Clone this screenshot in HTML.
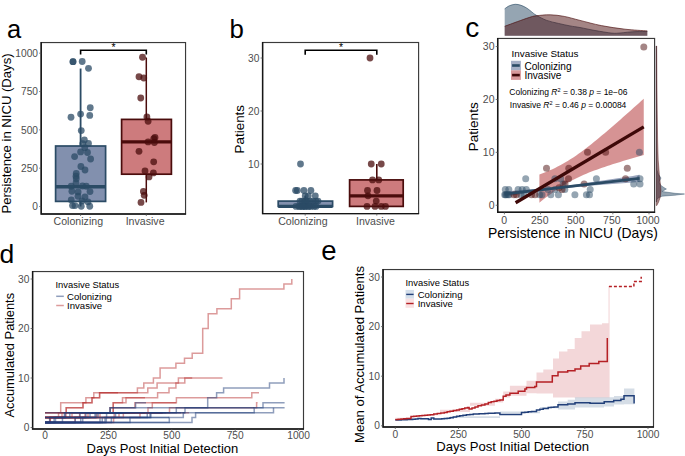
<!DOCTYPE html><html><head><meta charset="utf-8"><style>html,body{margin:0;padding:0;background:#fff;}svg{display:block;}</style></head><body>
<svg width="685" height="456" viewBox="0 0 685 456" font-family='"Liberation Sans", sans-serif'>
<rect width="685" height="456" fill="#fff"/>
<text x="6.90" y="37.80" font-size="25.5" text-anchor="start" fill="#000" >a</text>
<text x="229.40" y="37.90" font-size="25.8" text-anchor="start" fill="#000" >b</text>
<text x="465.30" y="36.60" font-size="28" text-anchor="start" fill="#000" >c</text>
<text x="-0.60" y="263.00" font-size="26.5" text-anchor="start" fill="#000" >d</text>
<text x="321.20" y="259.60" font-size="27.5" text-anchor="start" fill="#000" >e</text>
<line x1="80.6" y1="68.53" x2="80.6" y2="206.50" stroke="#2b4b65" stroke-width="1.8"/>
<rect x="55.6" y="146" width="49.99999999999999" height="55.400000000000006" fill="#8290ae" stroke="#2b4b65" stroke-width="1.7"/>
<line x1="55.6" y1="186.7" x2="105.6" y2="186.7" stroke="#2b4b65" stroke-width="3.4"/>
<line x1="146.3" y1="57.5" x2="146.3" y2="202.4" stroke="#4a0c0c" stroke-width="1.5"/>
<rect x="121.6" y="119.4" width="49.80000000000001" height="54.79999999999998" fill="#cd7b7d" stroke="#4a0c0c" stroke-width="1.7"/>
<line x1="121.6" y1="141.9" x2="171.4" y2="141.9" stroke="#4a0c0c" stroke-width="3.4"/>
<circle cx="73.00" cy="61.70" r="3.4" fill="#2b4b65" fill-opacity="0.75"/>
<circle cx="82.20" cy="61.50" r="3.4" fill="#2b4b65" fill-opacity="0.75"/>
<circle cx="88.50" cy="68.30" r="3.4" fill="#2b4b65" fill-opacity="0.75"/>
<circle cx="90.25" cy="107.75" r="3.4" fill="#2b4b65" fill-opacity="0.75"/>
<circle cx="71.00" cy="117.25" r="3.4" fill="#2b4b65" fill-opacity="0.75"/>
<circle cx="80.60" cy="114.10" r="3.4" fill="#2b4b65" fill-opacity="0.75"/>
<circle cx="89.75" cy="115.40" r="3.4" fill="#2b4b65" fill-opacity="0.75"/>
<circle cx="81.25" cy="130.60" r="3.4" fill="#2b4b65" fill-opacity="0.75"/>
<circle cx="84.40" cy="140.00" r="3.4" fill="#2b4b65" fill-opacity="0.75"/>
<circle cx="88.50" cy="143.50" r="3.4" fill="#2b4b65" fill-opacity="0.75"/>
<circle cx="82.75" cy="143.75" r="3.4" fill="#2b4b65" fill-opacity="0.75"/>
<circle cx="84.75" cy="147.75" r="3.4" fill="#2b4b65" fill-opacity="0.75"/>
<circle cx="80.60" cy="151.90" r="3.4" fill="#2b4b65" fill-opacity="0.75"/>
<circle cx="87.50" cy="152.50" r="3.4" fill="#2b4b65" fill-opacity="0.75"/>
<circle cx="74.60" cy="156.60" r="3.4" fill="#2b4b65" fill-opacity="0.75"/>
<circle cx="90.60" cy="159.00" r="3.4" fill="#2b4b65" fill-opacity="0.75"/>
<circle cx="80.90" cy="166.50" r="3.4" fill="#2b4b65" fill-opacity="0.75"/>
<circle cx="85.00" cy="170.00" r="3.4" fill="#2b4b65" fill-opacity="0.75"/>
<circle cx="76.25" cy="173.50" r="3.4" fill="#2b4b65" fill-opacity="0.75"/>
<circle cx="76.00" cy="176.25" r="3.4" fill="#2b4b65" fill-opacity="0.75"/>
<circle cx="76.25" cy="178.75" r="3.4" fill="#2b4b65" fill-opacity="0.75"/>
<circle cx="76.00" cy="182.90" r="3.4" fill="#2b4b65" fill-opacity="0.75"/>
<circle cx="71.25" cy="186.25" r="3.4" fill="#2b4b65" fill-opacity="0.75"/>
<circle cx="82.50" cy="186.00" r="3.4" fill="#2b4b65" fill-opacity="0.75"/>
<circle cx="86.25" cy="186.25" r="3.4" fill="#2b4b65" fill-opacity="0.75"/>
<circle cx="71.90" cy="191.25" r="3.4" fill="#2b4b65" fill-opacity="0.75"/>
<circle cx="78.10" cy="191.90" r="3.4" fill="#2b4b65" fill-opacity="0.75"/>
<circle cx="90.00" cy="191.60" r="3.4" fill="#2b4b65" fill-opacity="0.75"/>
<circle cx="78.00" cy="196.25" r="3.4" fill="#2b4b65" fill-opacity="0.75"/>
<circle cx="85.00" cy="196.90" r="3.4" fill="#2b4b65" fill-opacity="0.75"/>
<circle cx="71.25" cy="200.00" r="3.4" fill="#2b4b65" fill-opacity="0.75"/>
<circle cx="82.00" cy="201.00" r="3.4" fill="#2b4b65" fill-opacity="0.75"/>
<circle cx="88.00" cy="201.90" r="3.4" fill="#2b4b65" fill-opacity="0.75"/>
<circle cx="72.50" cy="205.60" r="3.4" fill="#2b4b65" fill-opacity="0.75"/>
<circle cx="81.25" cy="206.25" r="3.4" fill="#2b4b65" fill-opacity="0.75"/>
<circle cx="89.75" cy="206.25" r="3.4" fill="#2b4b65" fill-opacity="0.75"/>
<circle cx="75.00" cy="205.60" r="3.4" fill="#2b4b65" fill-opacity="0.75"/>
<circle cx="73.00" cy="61.70" r="3.4" fill="#2b4b65" fill-opacity="0.75"/>
<circle cx="142.50" cy="57.25" r="3.4" fill="#4a0c0c" fill-opacity="0.75"/>
<circle cx="139.00" cy="76.75" r="3.4" fill="#4a0c0c" fill-opacity="0.75"/>
<circle cx="143.75" cy="78.00" r="3.4" fill="#4a0c0c" fill-opacity="0.75"/>
<circle cx="140.75" cy="98.00" r="3.4" fill="#4a0c0c" fill-opacity="0.75"/>
<circle cx="146.90" cy="116.90" r="3.4" fill="#4a0c0c" fill-opacity="0.75"/>
<circle cx="148.10" cy="121.25" r="3.4" fill="#4a0c0c" fill-opacity="0.75"/>
<circle cx="155.00" cy="137.50" r="3.4" fill="#4a0c0c" fill-opacity="0.75"/>
<circle cx="153.75" cy="138.75" r="3.4" fill="#4a0c0c" fill-opacity="0.75"/>
<circle cx="148.10" cy="141.90" r="3.4" fill="#4a0c0c" fill-opacity="0.75"/>
<circle cx="154.40" cy="142.50" r="3.4" fill="#4a0c0c" fill-opacity="0.75"/>
<circle cx="139.00" cy="151.30" r="3.4" fill="#4a0c0c" fill-opacity="0.75"/>
<circle cx="153.70" cy="161.80" r="3.4" fill="#4a0c0c" fill-opacity="0.75"/>
<circle cx="145.00" cy="170.90" r="3.4" fill="#4a0c0c" fill-opacity="0.75"/>
<circle cx="153.40" cy="172.90" r="3.4" fill="#4a0c0c" fill-opacity="0.75"/>
<circle cx="149.00" cy="176.90" r="3.4" fill="#4a0c0c" fill-opacity="0.75"/>
<circle cx="143.40" cy="191.40" r="3.4" fill="#4a0c0c" fill-opacity="0.75"/>
<circle cx="144.20" cy="195.30" r="3.4" fill="#4a0c0c" fill-opacity="0.75"/>
<circle cx="141.00" cy="202.40" r="3.4" fill="#4a0c0c" fill-opacity="0.75"/>
<rect x="41.2" y="42.55" width="144.35" height="171.45" fill="none" stroke="#3a3a3a" stroke-width="1.15"/>
<path d="M41.2,42.05 V214 H186.05" fill="none" stroke="#161616" stroke-width="1.45"/>
<line x1="39.2" y1="206.50" x2="41.2" y2="206.50" stroke="#555" stroke-width="0.8"/>
<text x="38.00" y="210.17" font-size="10.2" text-anchor="end" fill="#4d4d4d" >0</text>
<line x1="39.2" y1="168.18" x2="41.2" y2="168.18" stroke="#555" stroke-width="0.8"/>
<text x="38.00" y="171.85" font-size="10.2" text-anchor="end" fill="#4d4d4d" >250</text>
<line x1="39.2" y1="129.85" x2="41.2" y2="129.85" stroke="#555" stroke-width="0.8"/>
<text x="38.00" y="133.52" font-size="10.2" text-anchor="end" fill="#4d4d4d" >500</text>
<line x1="39.2" y1="91.53" x2="41.2" y2="91.53" stroke="#555" stroke-width="0.8"/>
<text x="38.00" y="95.20" font-size="10.2" text-anchor="end" fill="#4d4d4d" >750</text>
<line x1="39.2" y1="53.20" x2="41.2" y2="53.20" stroke="#555" stroke-width="0.8"/>
<text x="38.00" y="56.87" font-size="10.2" text-anchor="end" fill="#4d4d4d" >1000</text>
<line x1="80.60" y1="214" x2="80.60" y2="216.0" stroke="#555" stroke-width="0.8"/>
<text x="78.30" y="225.00" font-size="10.6" text-anchor="middle" fill="#4d4d4d" >Colonizing</text>
<line x1="146.30" y1="214" x2="146.30" y2="216.0" stroke="#555" stroke-width="0.8"/>
<text x="145.10" y="225.00" font-size="10.6" text-anchor="middle" fill="#4d4d4d" >Invasive</text>
<text transform="translate(10.80,133.50) rotate(-90)" font-size="13.1" text-anchor="middle" fill="#000">Persistence in NICU (Days)</text>
<path d="M80.6,54.6 V50.2 H146.3 V54.6" fill="none" stroke="#000" stroke-width="1.6"/>
<text x="113.45" y="51.00" font-size="10.5" text-anchor="middle" fill="#000" >*</text>
<line x1="305.2" y1="195.80" x2="305.2" y2="206.40" stroke="#2b4b65" stroke-width="1.8"/>
<rect x="278.2" y="201.10" width="54.400000000000034" height="5.30" fill="#8290ae" stroke="#2b4b65" stroke-width="1.7"/>
<line x1="278.2" y1="206.40" x2="332.6" y2="206.40" stroke="#2b4b65" stroke-width="3.2"/>
<line x1="376.8" y1="164.00" x2="376.8" y2="206.40" stroke="#4a0c0c" stroke-width="1.6"/>
<rect x="349.6" y="179.90" width="53.599999999999966" height="26.50" fill="#cd7b7d" stroke="#4a0c0c" stroke-width="1.7"/>
<line x1="349.6" y1="195.80" x2="403.2" y2="195.80" stroke="#4a0c0c" stroke-width="3.2"/>
<circle cx="300.50" cy="164.00" r="3.4" fill="#2b4b65" fill-opacity="0.75"/>
<circle cx="295.60" cy="190.50" r="3.4" fill="#2b4b65" fill-opacity="0.75"/>
<circle cx="297.30" cy="190.50" r="3.4" fill="#2b4b65" fill-opacity="0.75"/>
<circle cx="303.90" cy="190.50" r="3.4" fill="#2b4b65" fill-opacity="0.75"/>
<circle cx="310.90" cy="190.50" r="3.4" fill="#2b4b65" fill-opacity="0.75"/>
<circle cx="305.20" cy="195.80" r="3.4" fill="#2b4b65" fill-opacity="0.75"/>
<circle cx="308.30" cy="195.80" r="3.4" fill="#2b4b65" fill-opacity="0.75"/>
<circle cx="315.30" cy="195.80" r="3.4" fill="#2b4b65" fill-opacity="0.75"/>
<circle cx="300.00" cy="201.10" r="3.4" fill="#2b4b65" fill-opacity="0.75"/>
<circle cx="302.00" cy="201.10" r="3.4" fill="#2b4b65" fill-opacity="0.75"/>
<circle cx="304.50" cy="201.10" r="3.4" fill="#2b4b65" fill-opacity="0.75"/>
<circle cx="307.00" cy="201.10" r="3.4" fill="#2b4b65" fill-opacity="0.75"/>
<circle cx="310.00" cy="201.10" r="3.4" fill="#2b4b65" fill-opacity="0.75"/>
<circle cx="313.00" cy="201.10" r="3.4" fill="#2b4b65" fill-opacity="0.75"/>
<circle cx="316.00" cy="201.10" r="3.4" fill="#2b4b65" fill-opacity="0.75"/>
<circle cx="318.00" cy="201.10" r="3.4" fill="#2b4b65" fill-opacity="0.75"/>
<circle cx="306.00" cy="201.10" r="3.4" fill="#2b4b65" fill-opacity="0.75"/>
<circle cx="296.00" cy="206.40" r="3.4" fill="#2b4b65" fill-opacity="0.75"/>
<circle cx="299.00" cy="206.40" r="3.4" fill="#2b4b65" fill-opacity="0.75"/>
<circle cx="302.00" cy="206.40" r="3.4" fill="#2b4b65" fill-opacity="0.75"/>
<circle cx="305.00" cy="206.40" r="3.4" fill="#2b4b65" fill-opacity="0.75"/>
<circle cx="308.00" cy="206.40" r="3.4" fill="#2b4b65" fill-opacity="0.75"/>
<circle cx="311.00" cy="206.40" r="3.4" fill="#2b4b65" fill-opacity="0.75"/>
<circle cx="314.00" cy="206.40" r="3.4" fill="#2b4b65" fill-opacity="0.75"/>
<circle cx="316.00" cy="206.40" r="3.4" fill="#2b4b65" fill-opacity="0.75"/>
<circle cx="300.00" cy="206.40" r="3.4" fill="#2b4b65" fill-opacity="0.75"/>
<circle cx="305.00" cy="206.40" r="3.4" fill="#2b4b65" fill-opacity="0.75"/>
<circle cx="309.00" cy="206.40" r="3.4" fill="#2b4b65" fill-opacity="0.75"/>
<circle cx="303.00" cy="206.40" r="3.4" fill="#2b4b65" fill-opacity="0.75"/>
<circle cx="370.00" cy="58.00" r="3.4" fill="#4a0c0c" fill-opacity="0.75"/>
<circle cx="371.25" cy="164.00" r="3.4" fill="#4a0c0c" fill-opacity="0.75"/>
<circle cx="381.25" cy="164.00" r="3.4" fill="#4a0c0c" fill-opacity="0.75"/>
<circle cx="372.50" cy="179.90" r="3.4" fill="#4a0c0c" fill-opacity="0.75"/>
<circle cx="378.75" cy="179.90" r="3.4" fill="#4a0c0c" fill-opacity="0.75"/>
<circle cx="367.50" cy="190.50" r="3.4" fill="#4a0c0c" fill-opacity="0.75"/>
<circle cx="377.00" cy="190.50" r="3.4" fill="#4a0c0c" fill-opacity="0.75"/>
<circle cx="368.00" cy="195.80" r="3.4" fill="#4a0c0c" fill-opacity="0.75"/>
<circle cx="376.25" cy="201.10" r="3.4" fill="#4a0c0c" fill-opacity="0.75"/>
<circle cx="367.00" cy="206.40" r="3.4" fill="#4a0c0c" fill-opacity="0.75"/>
<circle cx="375.00" cy="206.40" r="3.4" fill="#4a0c0c" fill-opacity="0.75"/>
<circle cx="381.25" cy="206.40" r="3.4" fill="#4a0c0c" fill-opacity="0.75"/>
<circle cx="385.50" cy="206.40" r="3.4" fill="#4a0c0c" fill-opacity="0.75"/>
<rect x="262.6" y="42.5" width="156.00" height="171.10" fill="none" stroke="#3a3a3a" stroke-width="1.15"/>
<path d="M262.6,42.0 V213.6 H419.1" fill="none" stroke="#161616" stroke-width="1.45"/>
<line x1="260.6" y1="164.00" x2="262.6" y2="164.00" stroke="#555" stroke-width="0.8"/>
<text x="259.40" y="167.67" font-size="10.2" text-anchor="end" fill="#4d4d4d" >10</text>
<line x1="260.6" y1="111.00" x2="262.6" y2="111.00" stroke="#555" stroke-width="0.8"/>
<text x="259.40" y="114.67" font-size="10.2" text-anchor="end" fill="#4d4d4d" >20</text>
<line x1="260.6" y1="58.00" x2="262.6" y2="58.00" stroke="#555" stroke-width="0.8"/>
<text x="259.40" y="61.67" font-size="10.2" text-anchor="end" fill="#4d4d4d" >30</text>
<line x1="305.20" y1="213.6" x2="305.20" y2="215.6" stroke="#555" stroke-width="0.8"/>
<text x="302.90" y="225.20" font-size="10.6" text-anchor="middle" fill="#4d4d4d" >Colonizing</text>
<line x1="376.80" y1="213.6" x2="376.80" y2="215.6" stroke="#555" stroke-width="0.8"/>
<text x="375.40" y="225.20" font-size="10.6" text-anchor="middle" fill="#4d4d4d" >Invasive</text>
<text transform="translate(244.20,129.20) rotate(-90)" font-size="13.4" text-anchor="middle" fill="#000">Patients</text>
<path d="M305.2,54.8 V50.2 H376.8 V54.8" fill="none" stroke="#000" stroke-width="1.6"/>
<text x="341.00" y="51.00" font-size="10.5" text-anchor="middle" fill="#000" >*</text>
<path d="M504.70,8.80 C505.47,8.30 507.55,6.55 509.30,5.80 C511.05,5.05 513.25,4.38 515.20,4.30 C517.15,4.22 519.05,4.65 521.00,5.30 C522.95,5.95 525.15,7.13 526.90,8.20 C528.65,9.27 529.95,10.53 531.50,11.70 C533.05,12.87 533.67,13.75 536.20,15.20 C538.73,16.65 543.00,19.03 546.70,20.40 C550.40,21.77 554.52,22.48 558.40,23.40 C562.28,24.32 566.40,25.22 570.00,25.90 C573.60,26.58 575.83,26.73 580.00,27.50 C584.17,28.27 589.70,29.57 595.00,30.50 C600.30,31.43 607.63,32.68 611.80,33.10 C615.97,33.52 617.37,33.15 620.00,33.00 C622.63,32.85 624.77,32.43 627.60,32.20 C630.43,31.97 633.72,31.72 637.00,31.60 C640.28,31.48 645.58,31.52 647.30,31.50 L647.3,35.7 L504.7,35.7 Z" fill="#2b4b65" fill-opacity="0.5" stroke="none"/>
<path d="M504.70,8.80 C505.47,8.30 507.55,6.55 509.30,5.80 C511.05,5.05 513.25,4.38 515.20,4.30 C517.15,4.22 519.05,4.65 521.00,5.30 C522.95,5.95 525.15,7.13 526.90,8.20 C528.65,9.27 529.95,10.53 531.50,11.70 C533.05,12.87 533.67,13.75 536.20,15.20 C538.73,16.65 543.00,19.03 546.70,20.40 C550.40,21.77 554.52,22.48 558.40,23.40 C562.28,24.32 566.40,25.22 570.00,25.90 C573.60,26.58 575.83,26.73 580.00,27.50 C584.17,28.27 589.70,29.57 595.00,30.50 C600.30,31.43 607.63,32.68 611.80,33.10 C615.97,33.52 617.37,33.15 620.00,33.00 C622.63,32.85 624.77,32.43 627.60,32.20 C630.43,31.97 633.72,31.72 637.00,31.60 C640.28,31.48 645.58,31.52 647.30,31.50" fill="none" stroke="#2b4b65" stroke-width="0.8" stroke-opacity="0.8"/>
<path d="M504.70,26.30 C506.83,25.52 513.42,23.07 517.50,21.60 C521.58,20.13 526.08,18.47 529.20,17.50 C532.32,16.53 532.70,16.25 536.20,15.80 C539.70,15.35 545.53,14.70 550.20,14.80 C554.87,14.90 559.23,15.47 564.20,16.40 C569.17,17.33 573.82,18.87 580.00,20.40 C586.18,21.93 593.80,24.13 601.30,25.60 C608.80,27.07 617.33,28.32 625.00,29.20 C632.67,30.08 643.58,30.62 647.30,30.90 L647.3,35.7 L504.7,35.7 Z" fill="#4a0c0c" fill-opacity="0.5" stroke="none"/>
<path d="M504.70,26.30 C506.83,25.52 513.42,23.07 517.50,21.60 C521.58,20.13 526.08,18.47 529.20,17.50 C532.32,16.53 532.70,16.25 536.20,15.80 C539.70,15.35 545.53,14.70 550.20,14.80 C554.87,14.90 559.23,15.47 564.20,16.40 C569.17,17.33 573.82,18.87 580.00,20.40 C586.18,21.93 593.80,24.13 601.30,25.60 C608.80,27.07 617.33,28.32 625.00,29.20 C632.67,30.08 643.58,30.62 647.30,30.90" fill="none" stroke="#4a0c0c" stroke-width="0.8" stroke-opacity="0.8"/>
<path d="M656.3,46 L656.40,46.00 L656.50,100.00 L656.60,150.00 L657.00,170.00 L658.50,174.50 L661.00,178.00 L659.00,182.00 L660.50,185.00 L663.00,187.00 L666.40,189.00 L662.00,191.50 L675.00,193.30 L684.50,194.00 L675.00,195.20 L662.00,196.20 L659.00,197.50 L657.00,199.00 L656.50,202.00 L656.3,202 Z" fill="#2b4b65" fill-opacity="0.5" stroke="#2b4b65" stroke-width="0.6" stroke-opacity="0.7"/>
<path d="M656.3,46 L656.70,46.00 L656.90,80.00 L657.20,110.00 L657.60,140.00 L658.20,160.00 L659.40,175.00 L660.50,185.00 L661.00,191.00 L660.30,197.00 L658.60,202.00 L656.80,205.50 L656.3,205.5 Z" fill="#4a0c0c" fill-opacity="0.5" stroke="#4a0c0c" stroke-width="0.6" stroke-opacity="0.7"/>
<path d="M539.40,174.60 L542.01,173.58 L544.62,172.54 L547.23,171.45 L549.84,170.31 L552.44,169.13 L555.05,167.89 L557.66,166.59 L560.27,165.22 L562.88,163.80 L565.49,162.30 L568.10,160.74 L570.70,159.10 L573.31,157.40 L575.92,155.63 L578.53,153.81 L581.14,151.92 L583.75,149.99 L586.36,148.01 L588.97,145.98 L591.58,143.92 L594.18,141.83 L596.79,139.70 L599.40,137.55 L602.01,135.37 L604.62,133.17 L607.23,130.96 L609.84,128.72 L612.44,126.48 L615.05,124.21 L617.66,121.94 L620.27,119.66 L622.88,117.36 L625.49,115.06 L628.10,112.75 L630.71,110.44 L633.32,108.11 L635.92,105.78 L638.53,103.45 L641.14,101.11 L643.75,98.77 L643.75,154.97 L641.14,155.72 L638.53,156.47 L635.92,157.22 L633.32,157.98 L630.71,158.75 L628.10,159.52 L625.49,160.30 L622.88,161.09 L620.27,161.88 L617.66,162.69 L615.05,163.50 L612.44,164.33 L609.84,165.17 L607.23,166.03 L604.62,166.90 L602.01,167.79 L599.40,168.70 L596.79,169.64 L594.18,170.60 L591.58,171.59 L588.97,172.62 L586.36,173.68 L583.75,174.79 L581.14,175.95 L578.53,177.15 L575.92,178.41 L573.31,179.74 L570.70,181.12 L568.10,182.58 L565.49,184.10 L562.88,185.69 L560.27,187.36 L557.66,189.08 L555.05,190.87 L552.44,192.72 L549.84,194.63 L547.23,196.58 L544.62,198.58 L542.01,200.62 L539.40,202.69 Z" fill="#cd7b7d" fill-opacity="0.82"/>
<path d="M504.40,191.40 L507.78,191.14 L511.16,190.88 L514.54,190.61 L517.92,190.35 L521.30,190.08 L524.68,189.80 L528.06,189.53 L531.44,189.25 L534.82,188.96 L538.20,188.67 L541.58,188.36 L544.96,188.05 L548.34,187.73 L551.72,187.39 L555.10,187.03 L558.48,186.66 L561.86,186.27 L565.24,185.86 L568.62,185.43 L572.00,184.99 L575.38,184.53 L578.76,184.06 L582.14,183.59 L585.52,183.10 L588.90,182.60 L592.28,182.10 L595.66,181.60 L599.04,181.09 L602.42,180.58 L605.80,180.07 L609.18,179.55 L612.56,179.03 L615.94,178.51 L619.32,177.99 L622.70,177.47 L626.08,176.95 L629.46,176.42 L632.84,175.90 L636.22,175.37 L639.60,174.85 L639.60,181.95 L636.22,182.20 L632.84,182.46 L629.46,182.71 L626.08,182.97 L622.70,183.23 L619.32,183.48 L615.94,183.74 L612.56,184.00 L609.18,184.26 L605.80,184.53 L602.42,184.80 L599.04,185.06 L595.66,185.34 L592.28,185.61 L588.90,185.89 L585.52,186.18 L582.14,186.47 L578.76,186.77 L575.38,187.08 L572.00,187.41 L568.62,187.74 L565.24,188.10 L561.86,188.47 L558.48,188.86 L555.10,189.26 L551.72,189.69 L548.34,190.13 L544.96,190.59 L541.58,191.06 L538.20,191.53 L534.82,192.02 L531.44,192.51 L528.06,193.01 L524.68,193.52 L521.30,194.02 L517.92,194.53 L514.54,195.05 L511.16,195.56 L507.78,196.08 L504.40,196.60 Z" fill="#8290ae" fill-opacity="0.8"/>
<circle cx="504.70" cy="194.67" r="3.5" fill="#2b4b65" fill-opacity="0.5"/>
<circle cx="505.50" cy="194.67" r="3.5" fill="#2b4b65" fill-opacity="0.5"/>
<circle cx="506.50" cy="194.67" r="3.5" fill="#2b4b65" fill-opacity="0.5"/>
<circle cx="508.20" cy="194.67" r="3.5" fill="#2b4b65" fill-opacity="0.5"/>
<circle cx="509.20" cy="194.67" r="3.5" fill="#2b4b65" fill-opacity="0.5"/>
<circle cx="521.00" cy="194.67" r="3.5" fill="#2b4b65" fill-opacity="0.5"/>
<circle cx="524.00" cy="194.67" r="3.5" fill="#2b4b65" fill-opacity="0.5"/>
<circle cx="539.70" cy="194.67" r="3.5" fill="#2b4b65" fill-opacity="0.5"/>
<circle cx="542.00" cy="194.67" r="3.5" fill="#2b4b65" fill-opacity="0.5"/>
<circle cx="550.80" cy="194.67" r="3.5" fill="#2b4b65" fill-opacity="0.5"/>
<circle cx="558.40" cy="194.67" r="3.5" fill="#2b4b65" fill-opacity="0.5"/>
<circle cx="586.40" cy="194.67" r="3.5" fill="#2b4b65" fill-opacity="0.5"/>
<circle cx="589.50" cy="194.67" r="3.5" fill="#2b4b65" fill-opacity="0.5"/>
<circle cx="574.90" cy="194.67" r="3.5" fill="#2b4b65" fill-opacity="0.5"/>
<circle cx="505.30" cy="189.38" r="3.5" fill="#2b4b65" fill-opacity="0.5"/>
<circle cx="508.80" cy="189.38" r="3.5" fill="#2b4b65" fill-opacity="0.5"/>
<circle cx="518.10" cy="189.38" r="3.5" fill="#2b4b65" fill-opacity="0.5"/>
<circle cx="522.20" cy="189.38" r="3.5" fill="#2b4b65" fill-opacity="0.5"/>
<circle cx="526.30" cy="189.38" r="3.5" fill="#2b4b65" fill-opacity="0.5"/>
<circle cx="547.90" cy="189.38" r="3.5" fill="#2b4b65" fill-opacity="0.5"/>
<circle cx="554.90" cy="189.38" r="3.5" fill="#2b4b65" fill-opacity="0.5"/>
<circle cx="564.80" cy="189.38" r="3.5" fill="#2b4b65" fill-opacity="0.5"/>
<circle cx="590.20" cy="189.38" r="3.5" fill="#2b4b65" fill-opacity="0.5"/>
<circle cx="563.10" cy="184.09" r="3.5" fill="#2b4b65" fill-opacity="0.5"/>
<circle cx="633.70" cy="184.09" r="3.5" fill="#2b4b65" fill-opacity="0.5"/>
<circle cx="640.00" cy="184.09" r="3.5" fill="#2b4b65" fill-opacity="0.5"/>
<circle cx="525.70" cy="178.80" r="3.5" fill="#2b4b65" fill-opacity="0.5"/>
<circle cx="554.90" cy="178.80" r="3.5" fill="#2b4b65" fill-opacity="0.5"/>
<circle cx="560.70" cy="178.80" r="3.5" fill="#2b4b65" fill-opacity="0.5"/>
<circle cx="596.40" cy="178.80" r="3.5" fill="#2b4b65" fill-opacity="0.5"/>
<circle cx="640.00" cy="178.80" r="3.5" fill="#2b4b65" fill-opacity="0.5"/>
<circle cx="639.40" cy="152.35" r="3.5" fill="#2b4b65" fill-opacity="0.5"/>
<circle cx="643.80" cy="47.08" r="3.5" fill="#4a0c0c" fill-opacity="0.5"/>
<circle cx="627.30" cy="168.22" r="3.5" fill="#4a0c0c" fill-opacity="0.5"/>
<circle cx="625.50" cy="178.80" r="3.5" fill="#4a0c0c" fill-opacity="0.5"/>
<circle cx="605.60" cy="152.35" r="3.5" fill="#4a0c0c" fill-opacity="0.5"/>
<circle cx="587.50" cy="152.35" r="3.5" fill="#4a0c0c" fill-opacity="0.5"/>
<circle cx="584.10" cy="184.09" r="3.5" fill="#4a0c0c" fill-opacity="0.5"/>
<circle cx="568.80" cy="168.22" r="3.5" fill="#4a0c0c" fill-opacity="0.5"/>
<circle cx="568.50" cy="178.80" r="3.5" fill="#4a0c0c" fill-opacity="0.5"/>
<circle cx="565.00" cy="184.09" r="3.5" fill="#4a0c0c" fill-opacity="0.5"/>
<circle cx="559.00" cy="187.79" r="3.5" fill="#4a0c0c" fill-opacity="0.5"/>
<circle cx="546.50" cy="168.22" r="3.5" fill="#4a0c0c" fill-opacity="0.5"/>
<circle cx="535.00" cy="194.67" r="3.5" fill="#4a0c0c" fill-opacity="0.5"/>
<circle cx="531.50" cy="194.67" r="3.5" fill="#4a0c0c" fill-opacity="0.5"/>
<circle cx="516.40" cy="194.67" r="3.5" fill="#4a0c0c" fill-opacity="0.5"/>
<circle cx="514.00" cy="194.67" r="3.5" fill="#4a0c0c" fill-opacity="0.5"/>
<circle cx="562.00" cy="189.38" r="3.5" fill="#4a0c0c" fill-opacity="0.5"/>
<line x1="504.4" y1="194.00" x2="639.6" y2="178.40" stroke="#2b4b65" stroke-width="2.8"/>
<line x1="515.6" y1="202.73" x2="643.75" y2="126.87" stroke="#3e0808" stroke-width="3.3"/>
<rect x="497.7" y="38.45" width="156.90" height="173.85" fill="none" stroke="#3a3a3a" stroke-width="1.15"/>
<path d="M497.7,37.95 V212.3 H655.1" fill="none" stroke="#161616" stroke-width="1.45"/>
<line x1="495.7" y1="205.25" x2="497.7" y2="205.25" stroke="#555" stroke-width="0.8"/>
<text x="494.50" y="209.03" font-size="10.5" text-anchor="end" fill="#4d4d4d" >0</text>
<line x1="495.7" y1="152.35" x2="497.7" y2="152.35" stroke="#555" stroke-width="0.8"/>
<text x="494.50" y="156.13" font-size="10.5" text-anchor="end" fill="#4d4d4d" >10</text>
<line x1="495.7" y1="99.45" x2="497.7" y2="99.45" stroke="#555" stroke-width="0.8"/>
<text x="494.50" y="103.23" font-size="10.5" text-anchor="end" fill="#4d4d4d" >20</text>
<line x1="495.7" y1="46.55" x2="497.7" y2="46.55" stroke="#555" stroke-width="0.8"/>
<text x="494.50" y="50.33" font-size="10.5" text-anchor="end" fill="#4d4d4d" >30</text>
<line x1="504.40" y1="212.3" x2="504.40" y2="214.3" stroke="#555" stroke-width="0.8"/>
<text x="504.10" y="223.90" font-size="10.5" text-anchor="middle" fill="#4d4d4d" >0</text>
<line x1="540.55" y1="212.3" x2="540.55" y2="214.3" stroke="#555" stroke-width="0.8"/>
<text x="539.75" y="223.90" font-size="10.5" text-anchor="middle" fill="#4d4d4d" >250</text>
<line x1="576.70" y1="212.3" x2="576.70" y2="214.3" stroke="#555" stroke-width="0.8"/>
<text x="575.80" y="223.90" font-size="10.5" text-anchor="middle" fill="#4d4d4d" >500</text>
<line x1="612.85" y1="212.3" x2="612.85" y2="214.3" stroke="#555" stroke-width="0.8"/>
<text x="611.85" y="223.90" font-size="10.5" text-anchor="middle" fill="#4d4d4d" >750</text>
<line x1="649.00" y1="212.3" x2="649.00" y2="214.3" stroke="#555" stroke-width="0.8"/>
<text x="647.90" y="223.90" font-size="10.5" text-anchor="middle" fill="#4d4d4d" >1000</text>
<text x="572.90" y="238.40" font-size="13.9" text-anchor="middle" fill="#000" >Persistence in NICU (Days)</text>
<text transform="translate(477.80,126.80) rotate(-90)" font-size="13.55" text-anchor="middle" fill="#000">Patients</text>
<text x="511.50" y="57.00" font-size="9.9" text-anchor="start" fill="#000" >Invasive Status</text>
<rect x="511" y="60.8" width="9.9" height="9.5" fill="#8290ae" fill-opacity="0.72"/>
<line x1="512.1" y1="65.5" x2="519.8" y2="65.5" stroke="#2b4b65" stroke-width="2.6"/>
<rect x="511" y="70.3" width="9.9" height="9.6" fill="#cd7b7d" fill-opacity="0.78"/>
<line x1="512.1" y1="75.1" x2="519.8" y2="75.1" stroke="#3e0808" stroke-width="2.6"/>
<text x="524.40" y="69.60" font-size="10.1" text-anchor="start" fill="#000" >Colonizing</text>
<text x="524.40" y="78.90" font-size="10.1" text-anchor="start" fill="#000" >Invasive</text>
<text x="509.30" y="95.40" font-size="8.5" text-anchor="start" fill="#000" >Colonizing <tspan font-style="italic">R</tspan><tspan font-size="5.6" dy="-3.6">2</tspan><tspan dy="3.6"> = 0.38 </tspan><tspan font-style="italic">p</tspan> = 1e−06</text>
<text x="509.80" y="108.40" font-size="8.5" text-anchor="start" fill="#000" >Invasive <tspan font-style="italic">R</tspan><tspan font-size="5.6" dy="-3.6">2</tspan><tspan dy="3.6"> = 0.46 </tspan><tspan font-style="italic">p</tspan> = 0.00084</text>
<path d="M45.00,412.65 H60.70 V402.75 H85.90 V397.80 H93.80 V392.85 H137.40 V387.90 H143.80 V382.95 H153.40 V378.00 H160.10 V368.10 H175.90 V363.15 H184.50 V358.20 H192.20 V353.25 H202.70 V328.50 H208.20 V313.65 H216.90 V308.70 H231.30 V298.80 H239.60 V288.90 H283.90 V283.95 H291.80 V279.00 H291.80" fill="none" stroke="#b22222" stroke-width="1.5" stroke-opacity="0.45"/>
<path d="M45.00,412.65 H66.20 V407.70 H83.00 V402.75 H92.00 V397.80 H99.60 V392.85 H147.80 V387.90 H157.10 V382.95 H178.40 V378.00 H222.50" fill="none" stroke="#b22222" stroke-width="1.5" stroke-opacity="0.45"/>
<path d="M45.00,417.60 H72.00 V412.65 H113.20 V402.75 H122.50 V397.80 H157.60 V392.85 H169.00 V387.90 H175.90 V382.95 H184.80 V378.00 H192.20" fill="none" stroke="#b22222" stroke-width="1.5" stroke-opacity="0.45"/>
<path d="M45.00,412.65 H66.20 V407.70 H83.00 V402.75 H92.00 V397.80 H99.60 V392.85 H118.00" fill="none" stroke="#b22222" stroke-width="1.5" stroke-opacity="0.45"/>
<path d="M45.00,417.60 H62.00 V412.65 H110.00 V407.70 H134.90 V402.75 H176.40 V397.80 H251.80 V392.85 H259.00" fill="none" stroke="#b22222" stroke-width="1.5" stroke-opacity="0.45"/>
<path d="M45.00,417.60 H100.00 V412.65 H148.00 V407.70 H152.30 V402.75 H176.30" fill="none" stroke="#b22222" stroke-width="1.5" stroke-opacity="0.45"/>
<path d="M45.00,422.55 H75.00 V417.60 H140.00 V412.65 H169.50 V407.70 H256.60 V402.75 H257.60" fill="none" stroke="#b22222" stroke-width="1.5" stroke-opacity="0.45"/>
<path d="M45.00,417.60 H85.00 V412.65 H113.20 V402.75 H126.00 V397.80 H145.00" fill="none" stroke="#b22222" stroke-width="1.5" stroke-opacity="0.45"/>
<path d="M45.00,422.55 H50.00 V417.60 H88.00 V412.65 H160.00" fill="none" stroke="#b22222" stroke-width="1.5" stroke-opacity="0.45"/>
<path d="M45.00,417.60 H66.00 V412.65 H110.00" fill="none" stroke="#b22222" stroke-width="1.5" stroke-opacity="0.45"/>
<path d="M45.00,417.60 H79.60 V412.65 H135.17" fill="none" stroke="#b22222" stroke-width="1.5" stroke-opacity="0.45"/>
<path d="M45.00,422.55 H50.35 V417.60 H58.53 V412.65 H98.24" fill="none" stroke="#b22222" stroke-width="1.5" stroke-opacity="0.45"/>
<path d="M45.00,417.60 H119.00 V412.65 H189.10" fill="none" stroke="#b22222" stroke-width="1.5" stroke-opacity="0.45"/>
<path d="M45.00,417.60 H114.13 V412.65 H162.47" fill="none" stroke="#b22222" stroke-width="1.5" stroke-opacity="0.45"/>
<path d="M45.00,417.60 H97.08 V412.65 H162.69" fill="none" stroke="#b22222" stroke-width="1.5" stroke-opacity="0.45"/>
<path d="M45.00,422.55 H113.62 V417.60 H123.35 V412.65 H162.62" fill="none" stroke="#b22222" stroke-width="1.5" stroke-opacity="0.45"/>
<path d="M45.00,422.55 H82.74 V417.60 H106.59 V412.65 H120.65" fill="none" stroke="#1f3d7a" stroke-width="1.5" stroke-opacity="0.5"/>
<path d="M45.00,422.55 H80.77 V417.60 H85.90 V412.65 H126.26" fill="none" stroke="#1f3d7a" stroke-width="1.5" stroke-opacity="0.5"/>
<path d="M45.00,422.55 H54.10 V417.60 H69.83 V412.65 H123.75" fill="none" stroke="#1f3d7a" stroke-width="1.5" stroke-opacity="0.5"/>
<path d="M45.00,422.55 H111.37 V417.60 H147.26 V412.65 H185.03" fill="none" stroke="#1f3d7a" stroke-width="1.5" stroke-opacity="0.5"/>
<path d="M45.00,422.55 H55.53 V417.60 H65.24 V412.65 H96.83" fill="none" stroke="#1f3d7a" stroke-width="1.5" stroke-opacity="0.5"/>
<path d="M45.00,422.55 H102.22 V417.60 H115.52 V412.65 H166.23" fill="none" stroke="#1f3d7a" stroke-width="1.5" stroke-opacity="0.5"/>
<path d="M45.00,422.55 H49.64 V417.60 H64.38 V412.65 H122.01" fill="none" stroke="#1f3d7a" stroke-width="1.5" stroke-opacity="0.5"/>
<path d="M45.00,422.55 H75.22 V417.60 H96.12 V412.65 H147.11" fill="none" stroke="#1f3d7a" stroke-width="1.5" stroke-opacity="0.5"/>
<path d="M45.00,422.55 H62.46 V417.60 H98.21 V412.65 H144.97" fill="none" stroke="#1f3d7a" stroke-width="1.5" stroke-opacity="0.5"/>
<path d="M45.00,422.55 H106.32 V417.60 H150.90 V412.65 H181.06" fill="none" stroke="#1f3d7a" stroke-width="1.5" stroke-opacity="0.5"/>
<path d="M45.00,417.60 H80.00 V412.65 H110.20 V407.70 H207.70 V397.80 H216.60 V392.85 H223.60 V387.90 H269.50 V382.95 H284.00 V378.00 H284.00" fill="none" stroke="#1f3d7a" stroke-width="1.5" stroke-opacity="0.5"/>
<path d="M45.00,422.55 H100.00 V417.60 H150.00 V412.65 H185.00 V407.70 H263.00 V402.75 H284.60" fill="none" stroke="#1f3d7a" stroke-width="1.5" stroke-opacity="0.5"/>
<path d="M45.00,412.65 H110.00 V407.70 H135.60 V402.75 H146.00" fill="none" stroke="#1f3d7a" stroke-width="1.5" stroke-opacity="0.5"/>
<path d="M45.00,422.55 H192.00 V417.60 H195.60 V412.65 H273.50 V407.70 H273.50" fill="none" stroke="#1f3d7a" stroke-width="1.5" stroke-opacity="0.5"/>
<path d="M45.00,422.55 H169.30 V417.60 H183.30 V412.65 H254.20 V407.70 H284.60" fill="none" stroke="#1f3d7a" stroke-width="1.5" stroke-opacity="0.5"/>
<path d="M45.00,417.60 H90.00 V412.65 H176.30 V407.70 H254.20" fill="none" stroke="#1f3d7a" stroke-width="1.5" stroke-opacity="0.5"/>
<path d="M45.00,422.55 H70.00 V422.55 H130.00 V417.60 H169.30" fill="none" stroke="#1f3d7a" stroke-width="1.5" stroke-opacity="0.5"/>
<path d="M45.00,417.60 H60.00 V417.60 H95.00 V412.65 H130.00" fill="none" stroke="#1f3d7a" stroke-width="1.5" stroke-opacity="0.5"/>
<path d="M45.00,422.55 H105.00 V417.60 H160.00 V417.60 H169.30" fill="none" stroke="#1f3d7a" stroke-width="1.5" stroke-opacity="0.5"/>
<rect x="32.6" y="271.55" width="270.90" height="157.45" fill="none" stroke="#3a3a3a" stroke-width="1.15"/>
<path d="M32.6,271.05 V429.0 H304.0" fill="none" stroke="#161616" stroke-width="1.45"/>
<line x1="30.6" y1="427.50" x2="32.6" y2="427.50" stroke="#555" stroke-width="0.8"/>
<text x="29.40" y="431.17" font-size="10.2" text-anchor="end" fill="#4d4d4d" >0</text>
<line x1="30.6" y1="378.00" x2="32.6" y2="378.00" stroke="#555" stroke-width="0.8"/>
<text x="29.40" y="381.67" font-size="10.2" text-anchor="end" fill="#4d4d4d" >10</text>
<line x1="30.6" y1="328.50" x2="32.6" y2="328.50" stroke="#555" stroke-width="0.8"/>
<text x="29.40" y="332.17" font-size="10.2" text-anchor="end" fill="#4d4d4d" >20</text>
<line x1="30.6" y1="279.00" x2="32.6" y2="279.00" stroke="#555" stroke-width="0.8"/>
<text x="29.40" y="282.67" font-size="10.2" text-anchor="end" fill="#4d4d4d" >30</text>
<line x1="45.00" y1="429.0" x2="45.00" y2="431.0" stroke="#555" stroke-width="0.8"/>
<text x="45.00" y="439.40" font-size="10.2" text-anchor="middle" fill="#4d4d4d" >0</text>
<line x1="108.40" y1="429.0" x2="108.40" y2="431.0" stroke="#555" stroke-width="0.8"/>
<text x="108.40" y="439.40" font-size="10.2" text-anchor="middle" fill="#4d4d4d" >250</text>
<line x1="171.80" y1="429.0" x2="171.80" y2="431.0" stroke="#555" stroke-width="0.8"/>
<text x="171.80" y="439.40" font-size="10.2" text-anchor="middle" fill="#4d4d4d" >500</text>
<line x1="235.20" y1="429.0" x2="235.20" y2="431.0" stroke="#555" stroke-width="0.8"/>
<text x="235.20" y="439.40" font-size="10.2" text-anchor="middle" fill="#4d4d4d" >750</text>
<line x1="298.60" y1="429.0" x2="298.60" y2="431.0" stroke="#555" stroke-width="0.8"/>
<text x="298.60" y="439.40" font-size="10.2" text-anchor="middle" fill="#4d4d4d" >1000</text>
<text x="162.40" y="453.00" font-size="13.0" text-anchor="middle" fill="#000" >Days Post Initial Detection</text>
<text transform="translate(14.00,355.20) rotate(-90)" font-size="12.9" text-anchor="middle" fill="#000">Accumulated Patients</text>
<text x="55.50" y="288.00" font-size="9.4" text-anchor="start" fill="#000" >Invasive Status</text>
<line x1="56.2" y1="296.3" x2="63.8" y2="296.3" stroke="#1f3d7a" stroke-width="1.5" stroke-opacity="0.5"/>
<line x1="56.2" y1="305.5" x2="63.8" y2="305.5" stroke="#b22222" stroke-width="1.5" stroke-opacity="0.45"/>
<text x="67.00" y="300.00" font-size="9.6" text-anchor="start" fill="#000" >Colonizing</text>
<text x="67.00" y="308.80" font-size="9.6" text-anchor="start" fill="#000" >Invasive</text>
<path d="M395.20,418.30 H420.00 V415.20 H440.00 V412.00 H470.00 V405.80 H495.00 V398.80 H503.20 V391.60 H509.90 V385.80 H526.50 V380.80 H536.50 V372.50 H543.30 V369.50 H553.00 V358.60 H559.00 V351.40 H567.40 V349.00 H574.70 V338.10 H581.50 V331.20 H590.00 V324.50 H602.00 V323.30 H608.50 V323.30 H608.50 V286.50 H609.60 V286.50 L609.6,398.3 L609.60,398.30 H574.70 V398.30 H574.70 V397.50 H553.00 V393.60 H536.50 V393.30 H526.50 V395.80 H509.90 V397.50 H503.20 V402.50 H495.00 V402.80 H470.00 V409.80 H440.00 V415.00 H420.00 V417.80 H395.20 V420.60 Z" fill="#f3d7d9"/>
<path d="M395.20,419.20 H450.00 V418.00 H500.00 V413.20 H540.00 V407.00 H558.00 V401.60 H567.70 V399.80 H575.00 V397.30 H604.00 V397.30 H614.00 V396.00 H624.00 V388.40 H634.40 V388.40 L634.4,404.2 L634.40,404.20 H624.00 V404.50 H614.00 V406.50 H604.00 V407.50 H575.00 V409.40 H558.00 V408.20 H540.00 V411.50 H500.00 V416.20 H450.00 V419.80 H395.20 V420.70 Z" fill="#c9d3df" fill-opacity="0.78"/>
<path d="M395.30,420.00 H398.26 V419.90 H401.22 V419.80 H404.18 V419.70 H407.14 V419.60 H410.10 V419.50 H412.73 V419.20 H415.37 V418.90 H418.00 V418.60 H420.93 V418.67 H423.87 V418.73 H426.80 V418.80 H428.50 V419.50 H431.20 V418.00 H433.80 V419.10 H439.00 V419.00 H441.65 V418.75 H444.30 V418.50 H447.15 V418.15 H450.00 V417.80 H453.30 V417.00 H456.60 V416.20 H459.80 V415.70 H463.00 V415.20 H466.43 V414.83 H469.87 V414.47 H473.30 V414.10 H476.20 V413.98 H479.10 V413.85 H482.00 V413.73 H484.90 V413.60 H488.23 V413.37 H491.57 V413.13 H494.90 V412.90 H499.90 V414.60 H502.51 V414.60 H505.13 V414.60 H507.74 V414.60 H510.36 V414.60 H512.97 V414.60 H515.59 V414.60 H518.20 V414.60 H521.50 V412.40 H524.83 V412.13 H528.17 V411.87 H531.50 V411.60 H536.50 V410.00 H539.85 V409.30 H543.20 V408.60 H548.20 V407.40 H551.10 V407.20 H554.00 V407.00 H558.00 V404.80 H567.70 V404.00 H575.00 V402.80 H590.00 V403.20 H604.20 V401.80 H613.70 V400.50 H620.90 V399.20 H624.00 V395.70 H634.10 V395.70 H634.10 V403.60" fill="none" stroke="#22407a" stroke-width="1.5"/>
<path d="M395.30,419.50 H398.12 V419.25 H400.95 V419.00 H403.78 V418.75 H406.60 V418.50 H411.00 V416.50 H413.76 V416.24 H416.51 V415.99 H419.27 V415.73 H422.03 V415.47 H424.79 V415.21 H427.54 V414.96 H430.30 V414.70 H433.80 V414.05 H437.30 V413.40 H440.80 V412.95 H444.30 V412.50 H447.15 V411.85 H450.00 V411.20 H453.30 V410.55 H456.60 V409.90 H459.33 V409.27 H462.05 V408.65 H464.77 V408.02 H467.50 V407.40 H469.10 V409.10 H472.00 V408.00 H475.00 V406.90 H478.00 V405.80 H481.45 V404.95 H484.90 V404.10 H488.30 V402.40 H491.15 V401.80 H494.00 V401.20 H496.95 V400.60 H499.90 V400.00 H503.20 V396.30 H506.00 V395.00 H509.90 V393.30 H518.20 V391.30 H524.90 V389.10 H526.50 V387.50 H534.80 V386.60 H536.50 V382.00 H552.30 V375.80 H558.00 V372.00 H567.70 V370.80 H575.00 V369.00 H580.70 V365.90 H589.20 V363.50 H598.80 V361.50 H607.30 V359.80 H607.30 V338.10" fill="none" stroke="#b52025" stroke-width="1.5"/>
<path d="M608.9,286.5 H633.9 V281.5 H641.2 V276.8" fill="none" stroke="#b52025" stroke-width="1.5" stroke-dasharray="3,2"/>
<rect x="383.05" y="269.55" width="270.45" height="157.45" fill="none" stroke="#3a3a3a" stroke-width="1.15"/>
<path d="M383.05,269.05 V427.0 H654.0" fill="none" stroke="#161616" stroke-width="1.45"/>
<line x1="381.05" y1="425.80" x2="383.05" y2="425.80" stroke="#555" stroke-width="0.8"/>
<text x="379.85" y="429.47" font-size="10.2" text-anchor="end" fill="#4d4d4d" >0</text>
<line x1="381.05" y1="376.20" x2="383.05" y2="376.20" stroke="#555" stroke-width="0.8"/>
<text x="379.85" y="379.87" font-size="10.2" text-anchor="end" fill="#4d4d4d" >10</text>
<line x1="381.05" y1="326.60" x2="383.05" y2="326.60" stroke="#555" stroke-width="0.8"/>
<text x="379.85" y="330.27" font-size="10.2" text-anchor="end" fill="#4d4d4d" >20</text>
<line x1="381.05" y1="277.00" x2="383.05" y2="277.00" stroke="#555" stroke-width="0.8"/>
<text x="379.85" y="280.67" font-size="10.2" text-anchor="end" fill="#4d4d4d" >30</text>
<line x1="395.30" y1="427.0" x2="395.30" y2="429.0" stroke="#555" stroke-width="0.8"/>
<text x="395.30" y="437.90" font-size="10.2" text-anchor="middle" fill="#4d4d4d" >0</text>
<line x1="458.48" y1="427.0" x2="458.48" y2="429.0" stroke="#555" stroke-width="0.8"/>
<text x="458.48" y="437.90" font-size="10.2" text-anchor="middle" fill="#4d4d4d" >250</text>
<line x1="521.65" y1="427.0" x2="521.65" y2="429.0" stroke="#555" stroke-width="0.8"/>
<text x="521.65" y="437.90" font-size="10.2" text-anchor="middle" fill="#4d4d4d" >500</text>
<line x1="584.83" y1="427.0" x2="584.83" y2="429.0" stroke="#555" stroke-width="0.8"/>
<text x="584.83" y="437.90" font-size="10.2" text-anchor="middle" fill="#4d4d4d" >750</text>
<line x1="648.00" y1="427.0" x2="648.00" y2="429.0" stroke="#555" stroke-width="0.8"/>
<text x="648.00" y="437.90" font-size="10.2" text-anchor="middle" fill="#4d4d4d" >1000</text>
<text x="512.70" y="450.70" font-size="13.1" text-anchor="middle" fill="#000" >Days Post Initial Detection</text>
<text transform="translate(364.40,354.50) rotate(-90)" font-size="13.1" text-anchor="middle" fill="#000">Mean of Accumulated Patients</text>
<text x="405.50" y="285.80" font-size="9.4" text-anchor="start" fill="#000" >Invasive Status</text>
<rect x="405.5" y="289.9" width="8.5" height="8.8" fill="#d5dfea"/>
<line x1="406.2" y1="294.4" x2="413.6" y2="294.4" stroke="#22407a" stroke-width="1.4"/>
<rect x="405.5" y="298.7" width="8.5" height="9.1" fill="#f9e1e2"/>
<line x1="406.2" y1="303.5" x2="413.6" y2="303.5" stroke="#b52025" stroke-width="1.4"/>
<text x="417.70" y="297.70" font-size="9.6" text-anchor="start" fill="#000" >Colonizing</text>
<text x="417.70" y="306.50" font-size="9.6" text-anchor="start" fill="#000" >Invasive</text>
</svg></body></html>
